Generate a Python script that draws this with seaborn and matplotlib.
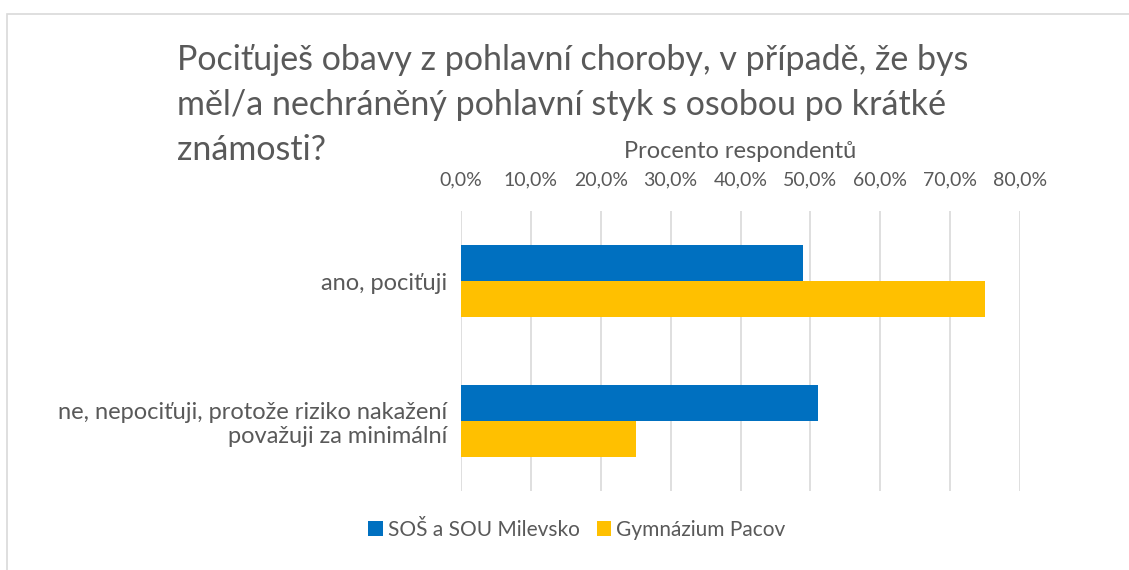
"""Průzkum: obavy z pohlavní choroby — horizontální skupinový sloupcový graf"""

import matplotlib.pyplot as plt
import pandas as pd
import seaborn as sns
from matplotlib.patches import Rectangle
from matplotlib.ticker import FuncFormatter

# data
odpovedi = [
    "ano, pociťuji",
    "ne, nepociťuji, protože riziko nakažení\npovažuji za minimální",
]
skoly = ["SOŠ a SOU Milevsko", "Gymnázium Pacov"]
milevsko = [48.9, 51.1]
pacov = [75.0, 25.0]
x_ticks = [0, 10, 20, 30, 40, 50, 60, 70, 80]

radky_titulku = [
    "Pociťuješ obavy z pohlavní choroby, v případě, že bys",
    "měl/a nechráněný pohlavní styk s osobou po krátké",
    "známosti?",
]

df = pd.DataFrame({
    "odpoved": odpovedi * 2,
    "skola": [skoly[0]] * len(odpovedi) + [skoly[1]] * len(odpovedi),
    "procento": milevsko + pacov,
})

sns.set_theme(style="white")
plt.rcParams["font.family"] = ["Lato", "DejaVu Sans"]
SEDA = "#595959"

fig = plt.figure(figsize=(11.29, 5.7), dpi=100)
# rámeček grafu
fig.patches.append(Rectangle((7 / 1129, -0.05), 1.1, 1 - 14 / 570 + 0.05,
                             transform=fig.transFigure, fill=False,
                             edgecolor="#d9d9d9", linewidth=1.2))

ax = fig.add_axes([461 / 1129, 1 - 491 / 570, 559 / 1129, 280 / 570])
sns.barplot(data=df, y="odpoved", x="procento", hue="skola", orient="h",
            palette=["#0070C0", "#FFC000"], saturation=1, width=0.514,
            linewidth=0, ax=ax)

ax.set_xlim(0, 80)
ax.set_ylim(1.5, -0.5)
ax.set_xticks(x_ticks)
ax.xaxis.set_major_formatter(FuncFormatter(lambda v, _: f"{v:.1f}%".replace(".", ",")))
ax.xaxis.tick_top()
ax.xaxis.set_label_position("top")
ax.set_xlabel("Procento respondentů", fontsize=17, color=SEDA, labelpad=10)
ax.set_ylabel("")
ax.tick_params(axis="x", length=0, pad=16, labelsize=14, labelcolor=SEDA)
ax.tick_params(axis="y", length=0, pad=10, labelsize=17, labelcolor=SEDA)
for t in ax.get_yticklabels():
    t.set_multialignment("right")
ax.grid(axis="x", color="#d9d9d9", linewidth=1.2)
ax.set_axisbelow(True)
for s in ax.spines.values():
    s.set_visible(False)

sns.move_legend(ax, "center", bbox_to_anchor=(577 / 1129, 1 - 530 / 570),
                bbox_transform=fig.transFigure, ncol=2, frameon=False,
                title=None, fontsize=15, handlelength=0.7, handleheight=0.7,
                handletextpad=0.25, columnspacing=0.8)
for t in ax.get_legend().get_texts():
    t.set_color(SEDA)

# titulek po řádcích (řádkování jako v Excelu)
for i, radek in enumerate(radky_titulku):
    fig.text(177 / 1129, 1 - (60 + 45 * i) / 570, radek, ha="left",
             va="center", fontsize=24.5, color=SEDA)

fig.savefig("out.png", dpi=100)
